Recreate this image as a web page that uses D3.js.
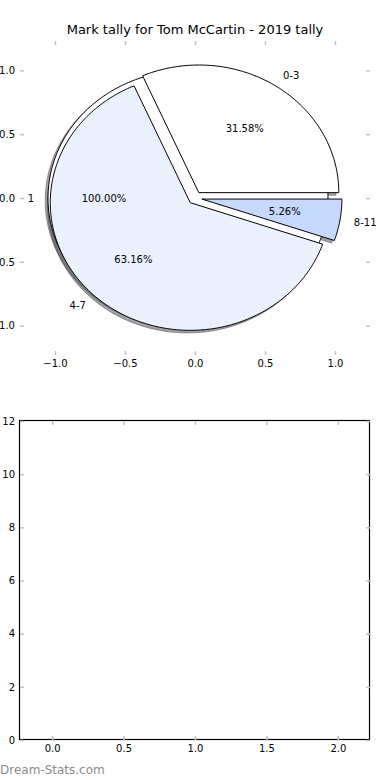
<!DOCTYPE html>
<html>
<head>
<meta charset="utf-8">
<script src="https://cdn.jsdelivr.net/npm/d3@7"></script>
<style>
  body { margin: 0; background: #fff; }
  svg { display: block; font-family: "DejaVu Sans", sans-serif; }
</style>
</head>
<body>
<div id="chart"></div>
<script>
// data
var titleText = "Mark tally for Tom McCartin - 2019 tally";
var outerLabels = ["1"];
var outerValues = [1];
var tallyLabels = ["0-3", "4-7", "8-11"];
var tallyValues = [6, 12, 1];
var sliceColors = ["#ffffff", "#eaf1fd", "#c5d9fc"];
var explodeBy = 0.05;
var pieTicks = [-1, -0.5, 0, 0.5, 1];
var barXTicks = [0, 0.5, 1, 1.5, 2];
var barYTicks = [0, 2, 4, 6, 8, 10, 12];

var width = 390, height = 780;
var svg = d3.select("#chart").append("svg")
  .attr("width", width)
  .attr("height", height);

// top axes (pie)
var x1 = d3.scaleLinear().domain([-1.25, 1.25]).range([20, 370]);
var y1 = d3.scaleLinear().domain([-1.23, 1.23]).range([355, 41]);

svg.append("text")
  .attr("x", 195).attr("y", 34)
  .attr("text-anchor", "middle")
  .attr("font-size", 13)
  .text(titleText);

// tick marks + labels, matplotlib style (grey inward ticks)
function drawTicks(x, y, xt, yt, xfmt, yfmt) {
  var x0 = x.range()[0], x9 = x.range()[1];
  var yb = y.range()[0], yt0 = y.range()[1];
  var g = svg.append("g");
  g.append("g").attr("transform", "translate(0," + yb + ")")
    .call(d3.axisBottom(x).tickValues(xt).tickFormat(xfmt).tickSizeInner(-4).tickSizeOuter(0).tickPadding(4.5));
  g.append("g").attr("transform", "translate(0," + yt0 + ")")
    .call(d3.axisTop(x).tickValues(xt).tickFormat("").tickSizeInner(-4).tickSizeOuter(0));
  g.append("g").attr("transform", "translate(" + x0 + ",0)")
    .call(d3.axisLeft(y).tickValues(yt).tickFormat(yfmt).tickSizeInner(-4).tickSizeOuter(0).tickPadding(5));
  g.append("g").attr("transform", "translate(" + x9 + ",0)")
    .call(d3.axisRight(y).tickValues(yt).tickFormat("").tickSizeInner(-4).tickSizeOuter(0));
  g.selectAll(".domain").remove();
  g.selectAll(".tick line").attr("stroke", "#c0c0c0").attr("stroke-width", 1.5);
  g.selectAll(".tick text").attr("fill", "#000").attr("font-size", 10)
    .attr("font-family", "DejaVu Sans, sans-serif");
}

drawTicks(x1, y1, pieTicks, pieTicks, d3.format(".1f"), d3.format(".1f"));

function wedgePath(cx, cy, a0, a1, r) {
  var full = (a1 - a0) >= 2 * Math.PI - 1e-9;
  var n = Math.max(2, Math.ceil((a1 - a0) / (Math.PI / 180)));
  var pts = full ? [] : [[cx, cy]];
  for (var i = 0; i <= n; i++) {
    var a = a0 + (a1 - a0) * i / n;
    pts.push([cx + r * Math.cos(a), cy + r * Math.sin(a)]);
  }
  return d3.line().x(function(p) { return x1(p[0]); }).y(function(p) { return y1(p[1]); })(pts) + "Z";
}

function buildSlices(values, labels) {
  var total = d3.sum(values);
  return d3.pie().sort(null).value(function(d) { return d; })(values).map(function(s, i) {
    var m = (s.startAngle + s.endAngle) / 2;
    return {
      label: labels[i],
      frac: values[i] / total,
      a0: s.startAngle, a1: s.endAngle, mid: m,
      cx: explodeBy * Math.cos(m), cy: explodeBy * Math.sin(m),
      color: sliceColors[i % sliceColors.length]
    };
  });
}

var slices = buildSlices(outerValues, outerLabels).concat(buildSlices(tallyValues, tallyLabels));

// shadows go underneath all wedges
svg.append("g").selectAll("path").data(slices).enter().append("path")
  .attr("d", function(d) { return wedgePath(d.cx - 0.02, d.cy - 0.02, d.a0, d.a1, 1); })
  .attr("fill", function(d) { var c = d3.rgb(d.color); return d3.rgb(c.r * 0.3, c.g * 0.3, c.b * 0.3); })
  .attr("fill-opacity", 0.5)
  .attr("stroke", function(d) { var c = d3.rgb(d.color); return d3.rgb(c.r * 0.3, c.g * 0.3, c.b * 0.3); })
  .attr("stroke-opacity", 0.5);

svg.append("g").selectAll("path").data(slices).enter().append("path")
  .attr("d", function(d) { return wedgePath(d.cx, d.cy, d.a0, d.a1, 1); })
  .attr("fill", function(d) { return d.color; })
  .attr("stroke", "#000")
  .attr("stroke-width", 1);

var labelsG = svg.append("g").attr("font-size", 10);
slices.forEach(function(d) {
  var lx = d.cx + 1.1 * Math.cos(d.mid), ly = d.cy + 1.1 * Math.sin(d.mid);
  labelsG.append("text")
    .attr("x", x1(lx)).attr("y", y1(ly))
    .attr("text-anchor", lx > 0 ? "start" : "end")
    .attr("dominant-baseline", "central")
    .text(d.label);
  var px = d.cx + 0.6 * Math.cos(d.mid), py = d.cy + 0.6 * Math.sin(d.mid);
  labelsG.append("text")
    .attr("x", x1(px)).attr("y", y1(py))
    .attr("text-anchor", "middle")
    .attr("dominant-baseline", "central")
    .text((100 * d.frac).toFixed(2) + "%");
});

// bottom axes (empty)
var x2 = d3.scaleLinear().domain([-0.225, 2.225]).range([20, 370]);
var y2 = d3.scaleLinear().domain([0, 12]).range([740, 421]);

svg.append("rect")
  .attr("x", 19.5).attr("y", 420.5)
  .attr("width", 350).attr("height", 319)
  .attr("fill", "none")
  .attr("stroke", "#000")
  .attr("stroke-width", 1.2);

drawTicks(x2, y2, barXTicks, barYTicks, d3.format(".1f"), d3.format("d"));

svg.append("text")
  .attr("x", 0).attr("y", 774)
  .attr("font-size", 12)
  .attr("fill", "#8a8a8a")
  .text("Dream-Stats.com");
</script>
</body>
</html>
